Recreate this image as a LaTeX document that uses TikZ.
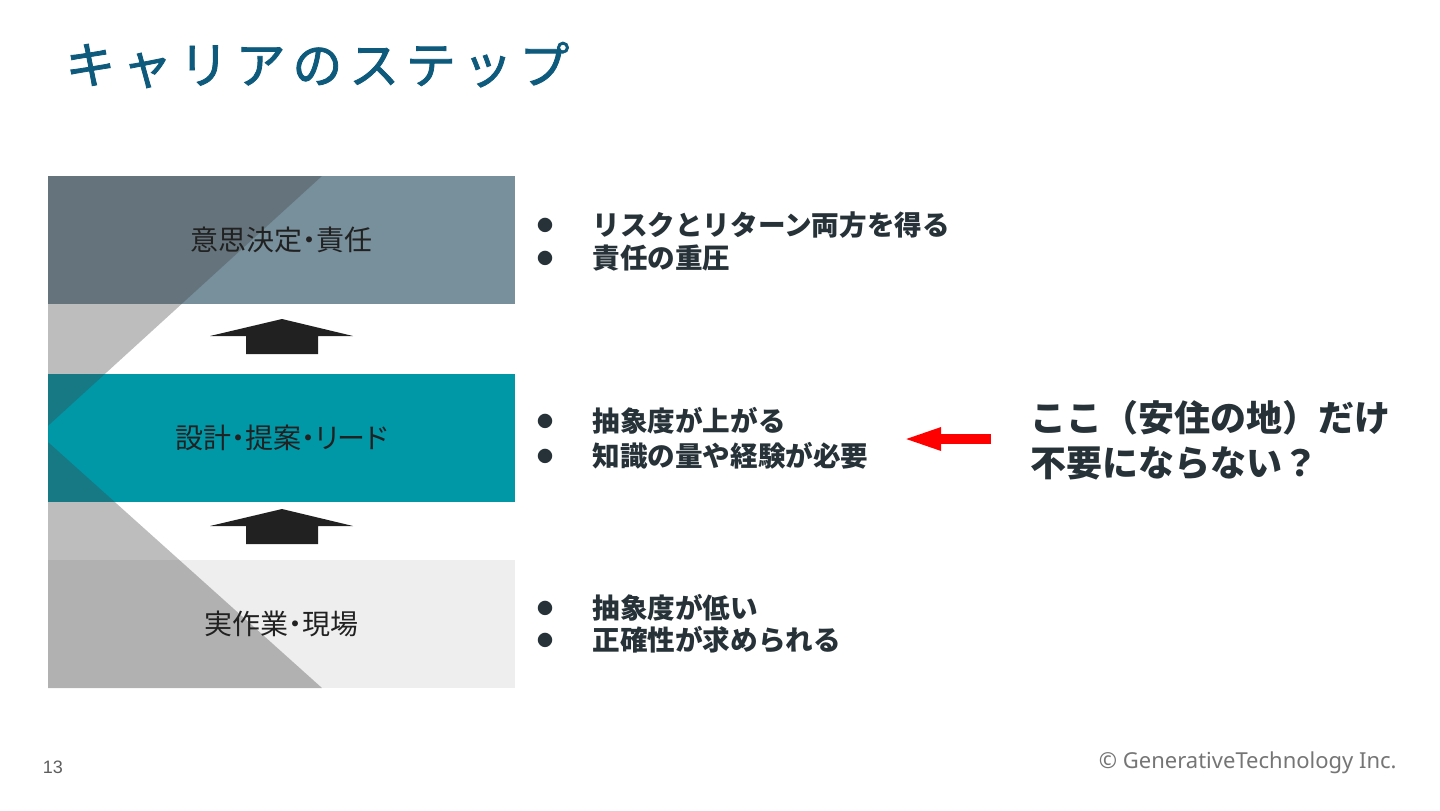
\documentclass[tikz,border=0pt]{standalone}
\usepackage{fontspec}
\setmainfont{Noto Sans CJK JP}
\newfontfamily\pagefont{Liberation Sans}
\newfontfamily\footfont{Noto Sans}
\usetikzlibrary{arrows.meta}
\definecolor{titleblue}{HTML}{0D5A7C}
\definecolor{topgray}{HTML}{78909C}
\definecolor{midteal}{HTML}{0097A7}
\definecolor{lowgray}{HTML}{EEEEEE}
\definecolor{chevgray}{HTML}{424242}
\definecolor{inkdark}{HTML}{212121}
\definecolor{bulletink}{HTML}{263238}
\definecolor{footgray}{HTML}{757575}
\tikzset{
  levelbox/.style={minimum width=233.5pt, minimum height=64pt, inner sep=0pt, draw=none},
  levellabel/.style={text=inkdark, inner sep=0pt, font=\fontsize{14pt}{16pt}\selectfont\addfontfeature{RawFeature=+palt}},
  bulletmark/.style={text=bulletink, inner sep=0pt, font=\fontsize{8pt}{10pt}\selectfont},
  bullettext/.style={text=bulletink, inner sep=0pt, anchor=west, font=\fontsize{13.8pt}{16pt}\selectfont\bfseries},
  upblock/.style={fill=inkdark, draw=none},
}

\begin{document}
\begin{tikzpicture}[x=0.5pt, y=-0.5pt]
  \useasboundingbox[fill=white] (0,0) rectangle (1440,810);
  % title
  \node[anchor=west, inner sep=0pt, text=titleblue,
    font=\fontsize{25pt}{30pt}\selectfont\addfontfeature{LetterSpace=13.5,FakeBold=1.6}] (title) at (65,65) {キャリアのステップ};
  % three levels
  \node[levelbox, fill=topgray] (decide) at (281.5,239.5) {};
  \node[levelbox, fill=midteal] (design) at (281.5,438) {};
  \node[levelbox, fill=lowgray] (field) at (281.5,624) {};
  % chevron overlay
  \begin{scope}
    \clip (48,176) rectangle (515,688);
    \fill[chevgray, opacity=0.35] (48,176) -- (322,176) -- (39,434) -- (322,688) -- (48,688) -- cycle;
  \end{scope}
  \node[levellabel] at (decide) {意思決定・責任};
  \node[levellabel] at (design) {設計・提案・リード};
  \node[levellabel] at (field) {実作業・現場};
  % up arrows between levels
  \foreach \ty in {319,509}
    \fill[upblock] (282,\ty) -- (353,\ty+17) -- (318,\ty+17) -- (318,\ty+35)
      -- (246,\ty+35) -- (246,\ty+17) -- (210,\ty+17) -- cycle;
  % bullet points
  \foreach \by/\btext [count=\i] in {225/リスクとリターン両方を得る, 258/責任の重圧,
      421/抽象度が上がる, 456/知識の量や経験が必要, 608/抽象度が低い, 640/正確性が求められる} {
    \node[bulletmark] (dot\i) at (545,\by) {●};
    \node[bullettext] (item\i) at (592,\by) {\btext};
  }
  % question
  \node[anchor=west, align=left, inner sep=0pt, text=bulletink,
    font=\fontsize{18pt}{22.5pt}\selectfont\bfseries] (note) at (1030,440) {ここ（安住の地）だけ\\不要にならない？};
  \coordinate (tail) at (991,439);
  \coordinate (tip) at (901,439);
  \draw[red, line width=5pt, -{Triangle[length=20pt, width=10pt]}] (tail) -- (tip);
  % footer
  \node[text=footgray!80!black, inner sep=0pt, font=\pagefont\fontsize{9pt}{11pt}\selectfont] (page) at (53,767) {13};
  \node[anchor=east, text=footgray, inner sep=0pt, font=\footfont\fontsize{11pt}{13pt}\selectfont] (copy) at (1397,763) {© GenerativeTechnology Inc.};
\end{tikzpicture}
\end{document}
